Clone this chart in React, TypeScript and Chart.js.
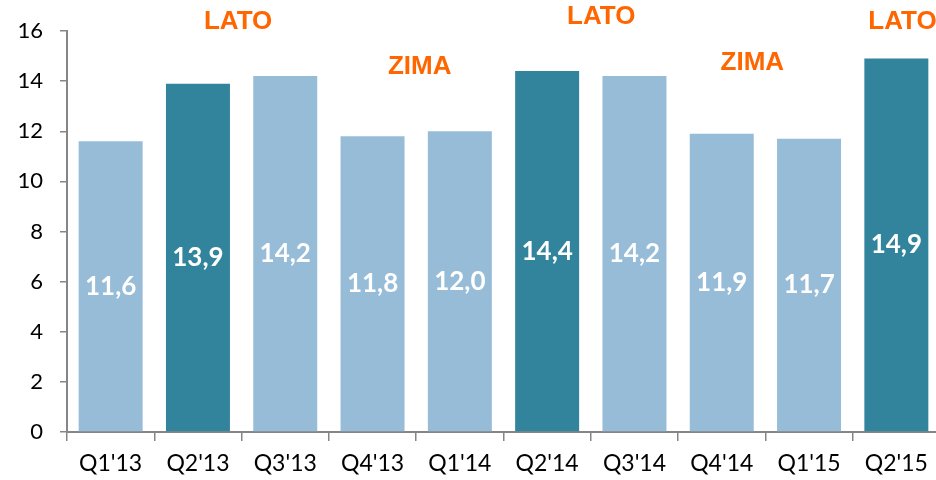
import React, { useEffect, useRef } from "react";
import { Chart, registerables } from "chart.js";

Chart.register(...registerables);

const categories = ["Q1'13", "Q2'13", "Q3'13", "Q4'13", "Q1'14", "Q2'14", "Q3'14", "Q4'14", "Q1'15", "Q2'15"];
const values = [11.6, 13.9, 14.2, 11.8, 12.0, 14.4, 14.2, 11.9, 11.7, 14.9];
const yTicks = [0, 2, 4, 6, 8, 10, 12, 14, 16];

// season annotations: text, position in category units, value height
const seasonLabels = ["LATO", "ZIMA", "LATO", "ZIMA", "LATO"];
const seasonX = [1.46, 3.54, 5.62, 7.35, 9.07];
const seasonY = [16.36, 14.56, 16.56, 14.72, 16.36];

const LIGHT = "#97BCD7";
const DARK = "#31849B";
const AXIS = "#868686";

const barColors = categories.map((c) => (c.startsWith("Q2") ? DARK : LIGHT));

const valueLabelPlugin = {
  id: "valueLabels",
  afterDatasetsDraw(chart: any) {
    const ctx = chart.ctx;
    const meta = chart.getDatasetMeta(0);
    ctx.save();
    ctx.font = "bold 26px Lato";
    ctx.fillStyle = "#FFFFFF";
    ctx.textAlign = "center";
    ctx.textBaseline = "middle";
    meta.data.forEach((bar: any, i: number) => {
      const y = (bar.y + bar.base) / 2;
      ctx.fillText(values[i].toFixed(1).replace(".", ","), bar.x, y);
    });
    ctx.restore();
  },
};

const seasonPlugin = {
  id: "seasonLabels",
  afterDraw(chart: any) {
    const ctx = chart.ctx;
    const xs = chart.scales.x;
    const ys = chart.scales.y;
    ctx.save();
    ctx.font = "bold 26px 'Liberation Sans'";
    ctx.fillStyle = "#FF6600";
    ctx.textAlign = "center";
    ctx.textBaseline = "middle";
    seasonLabels.forEach((t, i) => {
      ctx.fillText(t, xs.getPixelForValue(seasonX[i]), ys.getPixelForValue(seasonY[i]));
    });
    ctx.restore();
  },
};

export default function App() {
  const ref = useRef<HTMLCanvasElement>(null);
  useEffect(() => {
    if (!ref.current) return;
    const chart = new Chart(ref.current, {
      type: "bar",
      data: {
        labels: categories,
        datasets: [
          {
            data: values,
            backgroundColor: barColors,
            borderWidth: 0,
            categoryPercentage: 1,
            barPercentage: 0.733,
          },
        ],
      },
      options: {
        animation: false,
        responsive: false,
        devicePixelRatio: 1,
        layout: { padding: { top: 31, left: 0, right: 0, bottom: 0 } },
        plugins: { legend: { display: false }, tooltip: { enabled: false } },
        scales: {
          x: {
            grid: {
              display: true,
              drawOnChartArea: false,
              drawTicks: true,
              tickLength: 9,
              color: AXIS,
              lineWidth: 1.5,
              offset: true,
            },
            border: { display: true, color: AXIS, width: 2 },
            ticks: {
              color: "#000000",
              font: { family: "Lato", size: 23 },
              padding: 9,
              maxRotation: 0,
              autoSkip: false,
            },
            afterFit: (s: any) => {
              s.height = 48;
            },
          },
          y: {
            min: 0,
            max: 16,
            afterBuildTicks: (s: any) => {
              s.ticks = yTicks.map((v) => ({ value: v }));
            },
            grid: {
              display: true,
              drawOnChartArea: false,
              drawTicks: true,
              tickLength: 7,
              color: AXIS,
              lineWidth: 1.5,
            },
            border: { display: true, color: AXIS, width: 2 },
            ticks: {
              color: "#000000",
              font: { family: "Lato", size: 22 },
              padding: 17,
            },
            afterFit: (s: any) => {
              s.width = 67;
            },
          },
        },
      },
      plugins: [valueLabelPlugin, seasonPlugin],
    });
    return () => chart.destroy();
  }, []);
  return (
    <div style={{ position: "fixed", left: 0, top: 0, width: 936, height: 480, overflow: "hidden", background: "#ffffff" }}>
      <canvas ref={ref} width={940} height={480} style={{ display: "block" }} />
    </div>
  );
}
